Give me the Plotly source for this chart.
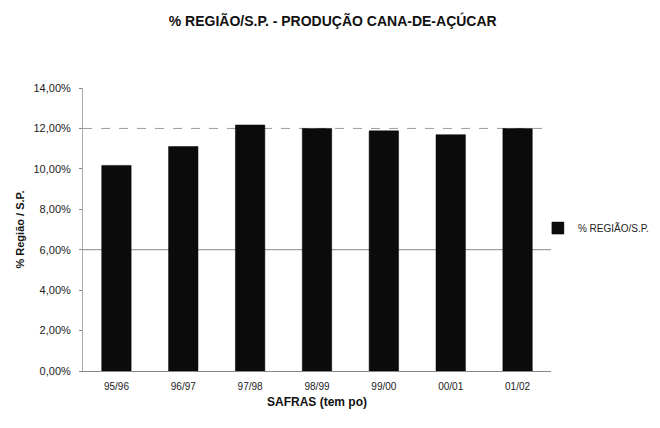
import plotly.graph_objects as go

safras = ["95/96", "96/97", "97/98", "98/99", "99/00", "00/01", "01/02"]
percentual = [0.1017, 0.1110, 0.1217, 0.1200, 0.1188, 0.1169, 0.1200]
serie_nome = "% REGIÃO/S.P."
y_ticks = [0, 0.02, 0.04, 0.06, 0.08, 0.10, 0.12, 0.14]

fig = go.Figure()
fig.add_trace(go.Bar(
    x=safras, y=percentual, name=serie_nome,
    marker=dict(color="#0b0b0b", line=dict(color="#000000", width=0.5)),
    showlegend=True,
))

# faint gridlines as seen in the scan
fig.add_hline(y=0.06, line=dict(color="#8a8a8a", width=1), layer="below")
fig.add_hline(y=0.12, line=dict(color="#9a9a9a", width=1, dash="dash"), layer="below")

fig.update_layout(
    width=652, height=420,
    paper_bgcolor="white", plot_bgcolor="white",
    margin=dict(l=75, r=109, t=80, b=57, autoexpand=False),
    font=dict(family="Liberation Sans, Arial", size=10, color="#222"),
    title=dict(text="<b>% REGIÃO/S.P. - PRODUÇÃO CANA-DE-AÇÚCAR</b>",
               x=0.498, xanchor="center", y=0.968, yanchor="middle",
               font=dict(size=14, color="#111")),
    bargap=0.56,
    separators=",.",
    showlegend=True,
    legend=dict(x=0.972, xanchor="left", y=0.505, yanchor="middle",
                font=dict(size=10, color="#222"), bgcolor="rgba(0,0,0,0)",
                itemwidth=30),
    xaxis=dict(
        title=dict(text="<b>SAFRAS (tem po)</b>", font=dict(size=12, color="#111"), standoff=6),
        showline=True, linecolor="#888", linewidth=1,
        ticks="", showgrid=False, tickfont=dict(size=10), ticklabelstandoff=6,
    ),
    yaxis=dict(
        title=dict(text="<b>% Região / S.P.</b>", font=dict(size=11, color="#111"), standoff=6),
        range=[0, 0.14], tickvals=y_ticks, tickformat=".2%",
        showline=True, linecolor="#aaa", linewidth=1,
        ticks="outside", ticklen=3, tickcolor="#888", ticklabelstandoff=6,
        showgrid=False, zeroline=False, tickfont=dict(size=11),
    ),
)

fig.write_html("out.html")
